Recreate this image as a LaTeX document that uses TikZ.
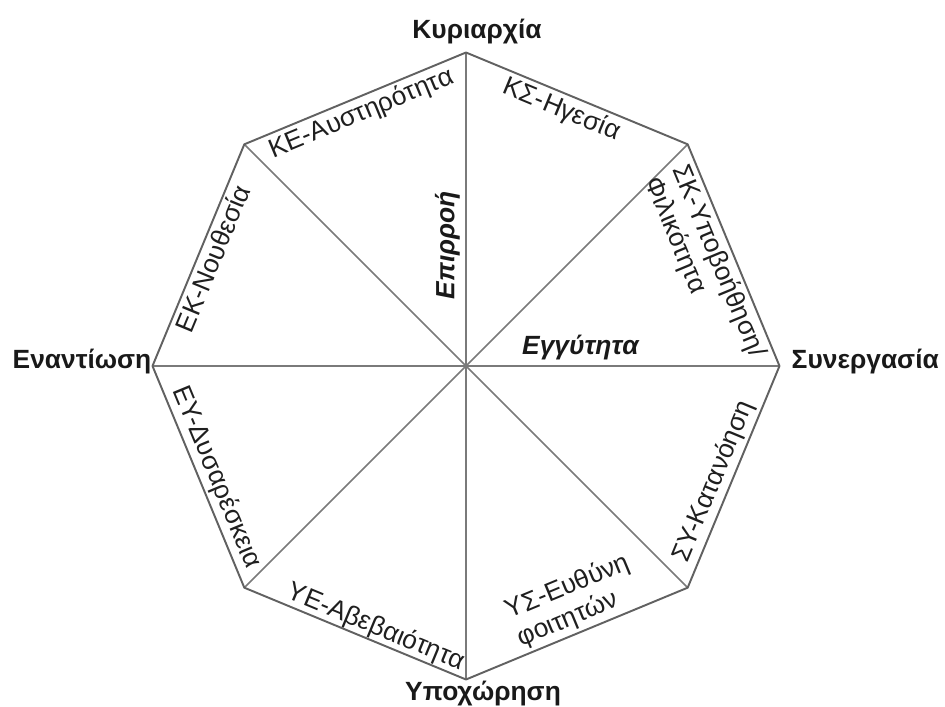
\documentclass[tikz,border=0pt]{standalone}
\usepackage{fontspec}
\setmainfont{Liberation Sans}
\usetikzlibrary{positioning}

\tikzset{
    edgeline/.style={draw=black!62, line width=1.1pt, line join=round},
    spoke/.style={draw=black!52, line width=1pt},
    pole/.style={font=\fontsize{15}{18}\selectfont\bfseries, text=black!90},
    sector/.style={font=\fontsize{15}{17}\selectfont, text=black!88, sloped, inner sep=2pt},
    axisname/.style={font=\fontsize{15}{18}\selectfont\bfseries\itshape, text=black!90, sloped},
}

\begin{document}
\begin{tikzpicture}
    \useasboundingbox (-9.32,-6.82) rectangle (9.58,7.32);
    \coordinate (O) at (0,0);
    \foreach \name/\ang in {A/0, B/45, C/90, D/135, E/180, F/225, G/270, H/315}{
        \coordinate (\name) at (\ang:6.27cm);
        \draw[spoke] (O) -- (\name);
    }
    \draw[edgeline] (A) -- (B) -- (C) -- (D) -- (E) -- (F) -- (G) -- (H) -- cycle;

    % sectors along the rim
    \path (D) -- (C) node[sector, pos=0.5, below] (ke) {ΚΕ-Αυστηρότητα};
    \path (C) -- (B) node[sector, pos=0.46, below] (ks) {ΚΣ-Ηγεσία};
    \path (B) -- (A) node[sector, pos=0.5, below, align=left] (sk) {ΣΚ-Υποβοήθηση/\\Φιλικότητα};
    \path (H) -- (A) node[sector, pos=0.45, above] (sy) {ΣΥ-Κατανόηση};
    \path (G) -- (H) node[sector, pos=0.54, above, align=left] (ys) {ΥΣ-Ευθύνη\\φοιτητών};
    \path (F) -- (G) node[sector, pos=0.57, above, inner sep=0.5pt] (ye) {ΥΕ-Αβεβαιότητα};
    \path (E) -- (F) node[sector, pos=0.53, above] (ey) {ΕΥ-Δυσαρέσκεια};
    \path (E) -- (D) node[sector, pos=0.51, below] (ek) {ΕΚ-Νουθεσία};

    % axes
    \path (O) -- (C) node[axisname, pos=0.385, above] (epir) {Επιρροή};
    \path (O) -- (A) node[axisname, pos=0.365, above] (egg) {Εγγύτητα};

    % poles
    \node[pole, above=0.05cm of C, xshift=0.22cm] (kyr) {Κυριαρχία};
    \node[pole, right=0.12cm of A, yshift=0.08cm] (syn) {Συνεργασία};
    \node[pole, below=-0.1cm of G, xshift=0.34cm] (ypo) {Υποχώρηση};
    \node[pole, left=-0.1cm of E, yshift=0.08cm] (ena) {Εναντίωση};
\end{tikzpicture}
\end{document}
